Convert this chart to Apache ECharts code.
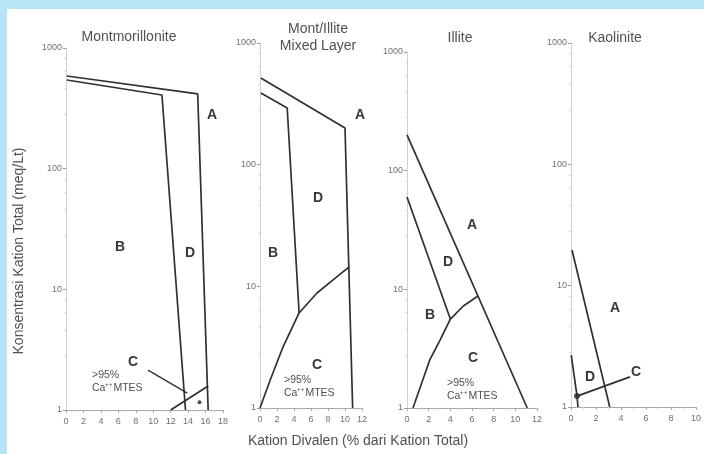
<!DOCTYPE html>
<html>
<head>
<meta charset="utf-8">
<script src="https://cdn.jsdelivr.net/npm/echarts@6/dist/echarts.min.js"></script>
<style>
  html, body { margin: 0; padding: 0; background: #ffffff; }
  #chart { width: 704px; height: 454px; }
</style>
</head>
<body>
<div id="chart"></div>
<script>
// Stability fields of clay minerals: total cation concentration (meq/Lt, log)
// against divalent cations (% of total cations).

const panelTitles = ['Montmorillonite', 'Mont/Illite\nMixed Layer', 'Illite', 'Kaolinite'];
const xMax = [18, 12, 12, 10];
const xStep = 2;
const yMin = 1;
const yMax = 1000;

// Montmorillonite boundaries [divalent %, total cation meq/Lt]
const montOuter = [[0.1, 586], [15.1, 416], [16.3, 1]];
const montInner = [[0.1, 543], [11.0, 408], [13.7, 1]];
const montC = [[12.0, 1], [16.3, 1.58]];
const montLeader = [[9.4, 2.14], [13.9, 1.38]];
const montDot = [[15.3, 1.16]];

// Mont/Illite mixed layer boundaries
const mixOuter = [[0.1, 515], [10.0, 200], [10.9, 1]];
const mixInner = [[0.1, 388], [3.2, 292], [4.6, 6.04]];
const mixC = [[0.0, 1], [1.2, 1.7], [2.7, 3.17], [4.6, 6.04], [6.7, 8.81], [8.6, 11.3], [10.45, 14.4]];

// Illite boundaries
const illA = [[0, 200], [11.1, 1]];
const illDB = [[0, 60], [4.0, 5.62]];
const illC = [[0.55, 1], [2.1, 2.54], [3.05, 3.74], [4.0, 5.62], [5.2, 7.24], [6.55, 8.79]];

// Kaolinite boundaries
const kaoA = [[0.08, 19.7], [3.1, 1]];
const kaoD = [[0.02, 2.68], [0.48, 1.23], [0.56, 1]];
const kaoC = [[0.48, 1.23], [4.72, 1.77]];
const kaoDot = [[0.48, 1.23]];

const grids = [
  { left: 66, top: 48, width: 157, height: 362 },
  { left: 260, top: 43, width: 102, height: 365 },
  { left: 407, top: 52, width: 130, height: 356 },
  { left: 571, top: 43, width: 125, height: 364 }
];

const FONT = '"Liberation Sans", Arial, sans-serif';
const LINE = '#303030';
const TEXT = '#505050';

const xAxes = grids.map((g, i) => ({
  type: 'value', gridIndex: i, min: 0, max: xMax[i], interval: xStep,
  axisLine: { show: true, lineStyle: { color: '#a8a8a8', width: 1 } },
  axisTick: { show: true, length: 3, lineStyle: { color: '#a8a8a8' } },
  minorTick: { show: true, splitNumber: 2, length: 2, lineStyle: { color: '#cccccc' } },
  axisLabel: { fontSize: 9, color: '#707070', margin: 7, fontFamily: FONT, showMaxLabel: true },
  splitLine: { show: false }
}));

const yAxes = grids.map((g, i) => ({
  type: 'log', logBase: 10, gridIndex: i, min: yMin, max: yMax,
  axisLine: { show: true, lineStyle: { color: '#d0d0d0', width: 1 } },
  axisTick: { show: true, length: 3, lineStyle: { color: '#999999' } },
  minorTick: { show: true, splitNumber: 5, length: 2, lineStyle: { color: '#dddddd' } },
  axisLabel: { fontSize: 9, color: '#707070', margin: 4, fontFamily: FONT,
    formatter: v => String(Math.round(v)) },
  splitLine: { show: false }
}));

function boundary(data, idx, width) {
  return {
    type: 'line', xAxisIndex: idx, yAxisIndex: idx, data: data,
    showSymbol: false, silent: true, animation: false,
    lineStyle: { color: LINE, width: width || 1.7 }
  };
}
function dot(data, idx, size) {
  return {
    type: 'scatter', xAxisIndex: idx, yAxisIndex: idx, data: data,
    symbol: 'circle', symbolSize: size, silent: true, animation: false,
    itemStyle: { color: '#222222' }
  };
}

const series = [
  boundary(montOuter, 0), boundary(montInner, 0), boundary(montC, 0),
  boundary(montLeader, 0, 1.3), dot(montDot, 0, 4),
  boundary(mixOuter, 1), boundary(mixInner, 1), boundary(mixC, 1),
  boundary(illA, 2), boundary(illDB, 2), boundary(illC, 2),
  boundary(kaoA, 3), boundary(kaoD, 3), boundary(kaoC, 3), dot(kaoDot, 3, 6)
];

function txt(x, y, s, opt) {
  return Object.assign({
    type: 'text', x: x, y: y, silent: true,
    style: Object.assign({
      text: s, fill: TEXT, font: '14px ' + FONT, align: 'center', verticalAlign: 'middle'
    }, (opt && opt.style) || {})
  }, opt && opt.rotation !== undefined ? { rotation: opt.rotation } : {});
}
function letter(x, y, s) {
  return txt(x, y, s, { style: { font: 'bold 14px ' + FONT, fill: '#383838' } });
}
function note(x, y, s) {
  return txt(x, y, s, { style: { font: '10.5px ' + FONT, fill: '#505050', align: 'left' } });
}

const graphic = [
  // frame
  { type: 'rect', shape: { x: 0, y: 0, width: 704, height: 9 }, style: { fill: '#b8e4f8' }, silent: true },
  { type: 'rect', shape: { x: 0, y: 0, width: 7, height: 454 }, style: { fill: '#b8e4f8' }, silent: true },
  // panel titles
  txt(129, 37, panelTitles[0]),
  txt(318, 38, panelTitles[1], { style: { lineHeight: 17 } }),
  txt(460, 38, panelTitles[2]),
  txt(615, 38, panelTitles[3]),
  // axis names
  txt(358, 441, 'Kation Divalen (% dari Kation Total)'),
  txt(19, 251, 'Konsentrasi Kation Total (meq/Lt)', { rotation: Math.PI / 2, style: { font: '14px ' + FONT } }),
  // field letters
  letter(212, 115, 'A'), letter(120, 247, 'B'), letter(190, 253, 'D'), letter(133, 362, 'C'),
  letter(360, 115, 'A'), letter(318, 198, 'D'), letter(273, 253, 'B'), letter(317, 365, 'C'),
  letter(472, 225, 'A'), letter(448, 262, 'D'), letter(430, 315, 'B'), letter(473, 358, 'C'),
  letter(615, 308, 'A'), letter(590, 377, 'D'), letter(636, 372, 'C'),
  // field notes
  note(92, 375, '>95%'), note(92, 388, 'Ca\u207A\u207AMTES'),
  note(284, 380, '>95%'), note(284, 393, 'Ca\u207A\u207AMTES'),
  note(447, 383, '>95%'), note(447, 396, 'Ca\u207A\u207AMTES')
];

const chart = echarts.init(document.getElementById('chart'), null, { renderer: 'canvas' });
chart.setOption({
  backgroundColor: '#ffffff',
  animation: false,
  grid: grids,
  xAxis: xAxes,
  yAxis: yAxes,
  series: series,
  graphic: graphic
});
</script>
</body>
</html>
